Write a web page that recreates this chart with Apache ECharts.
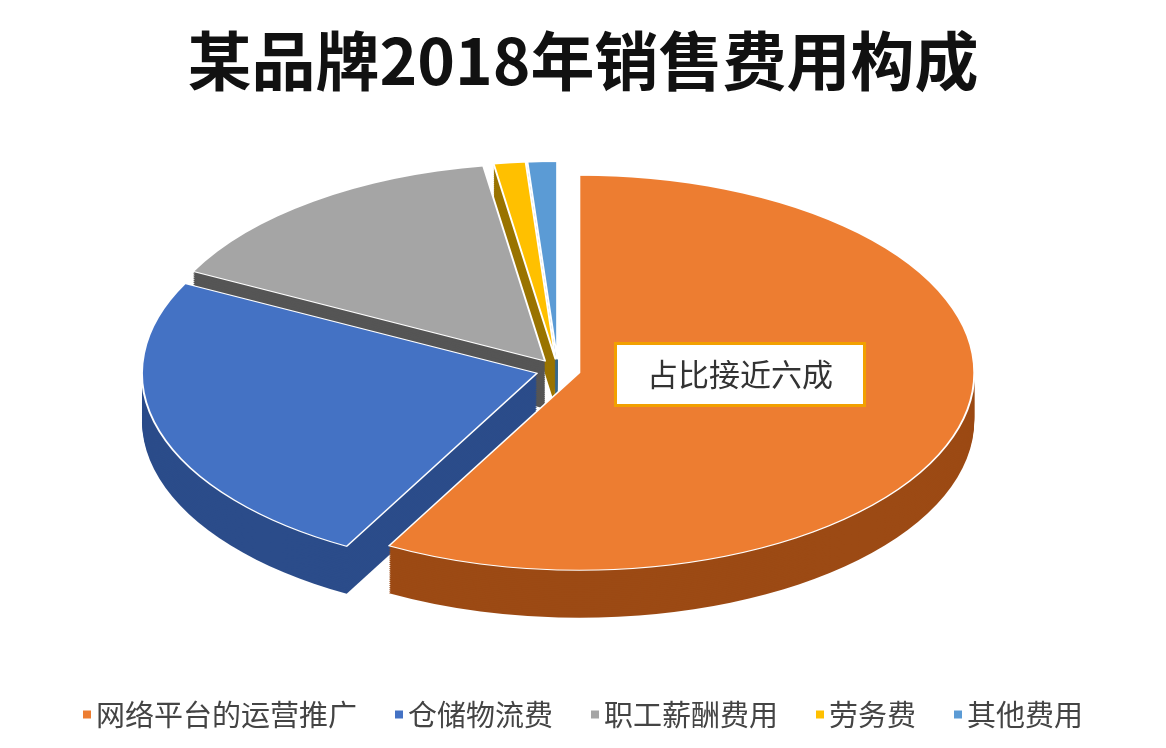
<!DOCTYPE html>
<html>
<head>
<meta charset="utf-8">
<script src="https://cdn.jsdelivr.net/npm/echarts@6/dist/echarts.min.js"></script>
<style>
body { margin: 0; background: #fff; }
#pie { position: absolute; left: 0; top: 160px; width: 1166px; height: 1000px; transform: scaleY(0.5); transform-origin: top left; }
#overlay { position: absolute; left: 0; top: 0; width: 1166px; height: 748px; }
</style>
</head>
<body>
<div id="pie"></div>
<div id="overlay"></div>
<script>
// 销售费用构成 (%)
const categories = ['网络平台的运营推广', '仓储物流费', '职工薪酬费用', '劳务费', '其他费用'];
const values = [58, 24.5, 15, 1.3, 1.2];
const colors = ['#ED7D31', '#4472C4', '#A5A5A5', '#FFC000', '#5B9BD5'];
const sideColors = ['#9C4A14', '#2B4C8A', '#555555', '#9A7400', '#36698F'];

const pieChart = echarts.init(document.getElementById('pie'));
const overlay = echarts.init(document.getElementById('overlay'));

function pieData(cols) {
    return categories.map(function (name, i) {
        return { name: name, value: values[i], selected: true, itemStyle: { color: cols[i] } };
    });
}

const layers = [];
const depth = 95, steps = 25;
for (let k = steps; k >= 0; k--) {
    layers.push({
        type: 'pie',
        silent: true,
        radius: 395,
        center: [558, 420 + depth * k / steps],
        startAngle: 90,
        selectedMode: 'multiple',
        selectedOffset: 22,
        animation: false,
        label: { show: false },
        labelLine: { show: false },
        itemStyle: { borderColor: k === 0 ? '#ffffff' : 'transparent', borderWidth: k === 0 ? 2 : 0 },
        data: pieData(k === 0 ? colors : sideColors)
    });
}
pieChart.setOption({ series: layers });

overlay.setOption({
    title: {
        text: '某品牌2018年销售费用构成',
        left: 'center', top: 24,
        textStyle: { fontSize: 64, fontWeight: 'bold', color: '#111', fontFamily: 'Noto Sans CJK SC' }
    },
    legend: {
        bottom: 14, left: 'center',
        icon: 'rect', itemWidth: 8, itemHeight: 8, itemGap: 38,
        textStyle: { fontSize: 29, color: '#444', fontFamily: 'Noto Sans CJK SC' },
        data: categories
    },
    graphic: [{
        type: 'text', left: 614, top: 342,
        style: {
            text: '占比接近六成', fontSize: 31, fill: '#333', fontFamily: 'Noto Sans CJK SC',
            backgroundColor: '#fff', borderColor: '#F2A000', borderWidth: 3, padding: [14, 30]
        }
    }],
    series: [{
        type: 'pie', radius: [0, 0], silent: true,
        label: { show: false },
        data: pieData(colors)
    }]
});
</script>
</body>
</html>
